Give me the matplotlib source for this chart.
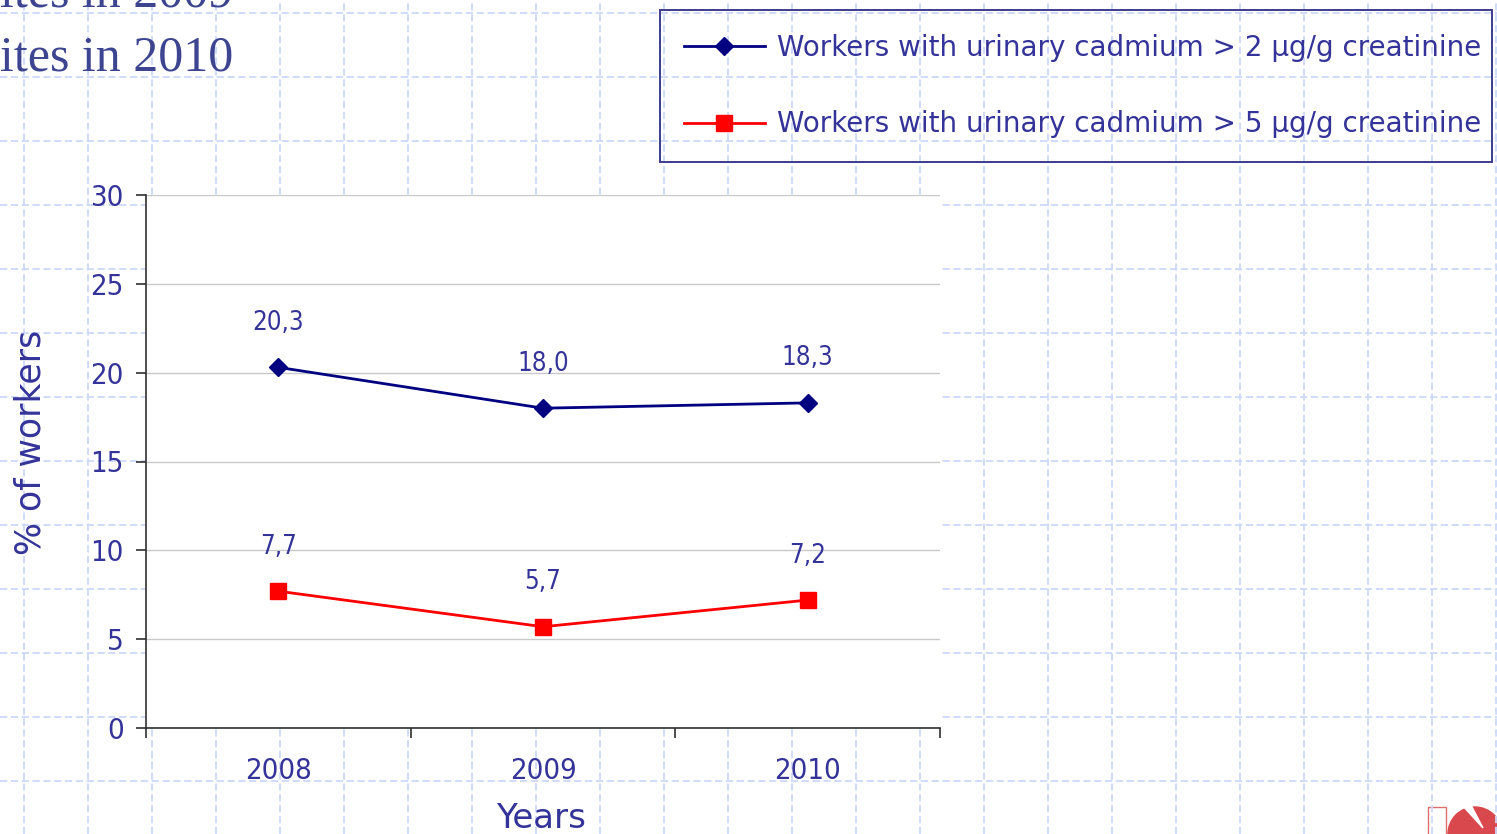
import matplotlib
matplotlib.use('Agg')
import matplotlib.pyplot as plt
from matplotlib.patches import Rectangle, Circle, Polygon
import numpy as np

# Données
years = ['2008', '2009', '2010']
above_2 = [20.3, 18.0, 18.3]
above_5 = [7.7, 5.7, 7.2]
labels_2 = ['20,3', '18,0', '18,3']
labels_5 = ['7,7', '5,7', '7,2']
series_names = ['Workers with urinary cadmium > 2 µg/g creatinine',
                'Workers with urinary cadmium > 5 µg/g creatinine']
title_lines = ['ites in 2009', 'ites in 2010']

W, H = 1497, 834
txt = '#333399'
cond = dict(family='DejaVu Sans', stretch='condensed')

fig = plt.figure(figsize=(W / 100, H / 100), dpi=100)

# fond de la diapositive (grille pointillée bleue)
bg = fig.add_axes([0, 0, 1, 1], zorder=0)
bg.set_xlim(0, W)
bg.set_ylim(H, 0)
bg.axis('off')
for gx in np.arange(24, W, 64):
    bg.axvline(gx, color='#cdd8fa', lw=1.3, ls=(0, (4, 2)))
for gy in np.arange(13, H, 64):
    bg.axhline(gy, color='#cdd8fa', lw=1.3, ls=(0, (4, 2)))

bg.text(0, 6, title_lines[0], family='Liberation Serif', fontsize=36,
        color='#3d4591', va='baseline', ha='left')
bg.text(0, 70, title_lines[1], family='Liberation Serif', fontsize=36,
        color='#3d4591', va='baseline', ha='left')

# logo en bas à droite
bg.add_patch(Rectangle((1428, 807), 18, 30, fill=False, ec='#e07070', lw=1))
bg.add_patch(Circle((1475, 834), 27, color='#d9484c'))
bg.add_patch(Polygon([(1462, 805), (1471, 805), (1483, 828)], color='white'))

# graphique
ax = fig.add_axes([146 / W, (H - 728) / H, (940 - 146) / W, (728 - 195) / H], zorder=1)
x = np.arange(1, len(years) + 1)
ax.plot(x, above_2, color='#000080', marker='D', ms=9, lw=2, label=series_names[0])
ax.plot(x, above_5, color='#ff0000', marker='s', ms=11, lw=2, label=series_names[1])

for xi, yi, lab in zip(x, above_2, labels_2):
    ax.annotate(lab, (xi, yi), xytext=(0, 32), textcoords='offset points',
                ha='center', va='center', fontsize=18.5, color=txt, **cond)
for xi, yi, lab in zip(x, above_5, labels_5):
    ax.annotate(lab, (xi, yi), xytext=(0, 32), textcoords='offset points',
                ha='center', va='center', fontsize=18.5, color=txt, **cond)

ax.set_xlim(0.5, 3.5)
ax.set_ylim(0, 30)
ax.set_yticks(range(0, 31, 5))
ax.yaxis.grid(True, color='#c8c8c8', lw=1)
ax.set_axisbelow(True)
for s in ['top', 'right']:
    ax.spines[s].set_visible(False)
for s in ['left', 'bottom']:
    ax.spines[s].set_color('#303030')
    ax.spines[s].set_linewidth(1.2)

ax.set_xticks([0.5, 1.5, 2.5, 3.5])
ax.set_xticklabels([])
ax.set_xticks(x, minor=True)
ax.set_xticklabels(years, minor=True, fontsize=21, color=txt, **cond)
ax.tick_params(axis='x', which='major', length=7, width=1.2, color='#303030')
ax.tick_params(axis='x', which='minor', length=0, pad=21)
ax.tick_params(axis='y', length=7, width=1.2, color='#303030', pad=9)
for t in ax.get_yticklabels():
    t.set_fontsize(21)
    t.set_color(txt)
    t.set_fontstretch('condensed')

ax.set_ylabel('% of workers', fontsize=25, color=txt, va='center', family='DejaVu Sans')
ax.yaxis.set_label_coords((31 - 146) / 794, (728 - 442) / 533)
ax.set_xlabel('Years', fontsize=24.5, color=txt, va='center', family='DejaVu Sans')
ax.xaxis.set_label_coords(0.497, (728 - 818) / 533)

leg = ax.legend(loc='upper left', mode='expand',
                bbox_to_anchor=(660 / W, 1 - 10 / H, (1492 - 660) / W, 0.0),
                bbox_transform=fig.transFigure, borderaxespad=0,
                frameon=True, fancybox=False, framealpha=1,
                prop=dict(size=20, family='DejaVu Sans'), labelcolor=txt,
                handlelength=2.9, handletextpad=0.45, borderpad=0.87,
                labelspacing=1.73)
leg.get_frame().set_facecolor('none')
leg.get_frame().set_edgecolor('#3c3c8c')
leg.get_frame().set_linewidth(1.4)

fig.savefig('out.png', dpi=100)
